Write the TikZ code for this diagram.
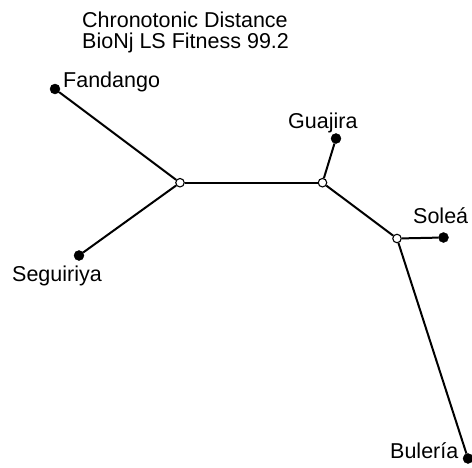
\documentclass[tikz,border=0pt]{standalone}
\usepackage{fontspec}
\setmainfont{Liberation Sans}
\begin{document}
\begin{tikzpicture}[x=1pt,y=-1pt,
  leaf/.style={circle,fill=black,draw=black,inner sep=0pt,minimum size=10pt},
  inner/.style={circle,fill=white,draw=black,line width=1.1pt,inner sep=0pt,minimum size=8.5pt},
  edge/.style={line width=2pt},
  lbl/.style={font=\fontsize{21.5}{20.5}\selectfont,inner sep=0pt}]
\useasboundingbox (0,0) rectangle (472,467);
\node[lbl,anchor=base west] (title1) at (82,27.5) {Chronotonic Distance};
\node[lbl,anchor=base west] (title2) at (82,48) {BioNj LS Fitness 99.2};
\node[leaf] (fan) at (55,89) {};
\node[leaf] (seg) at (79,255.5) {};
\node[leaf] (gua) at (336,138.5) {};
\node[leaf] (sol) at (443.5,237.5) {};
\node[leaf] (bul) at (468,458.5) {};
\node[inner] (n1) at (180,182.7) {};
\node[inner] (n2) at (322.5,182.7) {};
\node[inner] (n3) at (397,238.5) {};
\draw[edge] (fan) -- (n1);
\draw[edge] (seg) -- (n1);
\draw[edge] (n1) -- (n2);
\draw[edge] (gua) -- (n2);
\draw[edge] (n2) -- (n3);
\draw[edge] (n3) -- (sol);
\draw[edge] (n3) -- (bul);
\node[lbl,anchor=base west] (lfan) at (63,87) {Fandango};
\node[lbl,anchor=base west] (lseg) at (12,281.5) {Seguiriya};
\node[lbl,anchor=base west] (lgua) at (288,128) {Guajira};
\node[lbl,anchor=base west] (lsol) at (413,223) {Soleá};
\node[lbl,anchor=base west] (lbul) at (390,458) {Bulería};
\end{tikzpicture}
\end{document}
